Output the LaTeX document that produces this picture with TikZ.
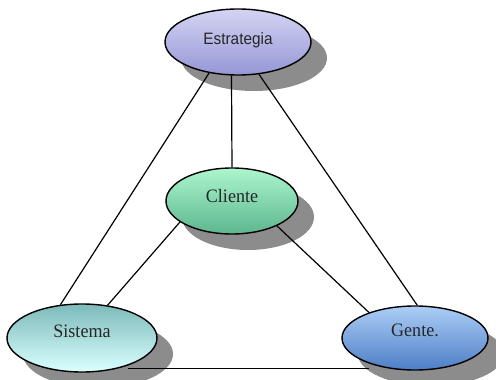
\documentclass[tikz,border=0pt]{standalone}
\usepackage{fontspec}
\setmainfont{Liberation Serif}
\newfontfamily\headfont{Liberation Sans}
\usetikzlibrary{shapes.geometric,shadows}

\definecolor{estTop}{RGB}{212,212,244}
\definecolor{estBot}{RGB}{150,150,214}
\definecolor{cliTop}{RGB}{172,246,206}
\definecolor{cliBot}{RGB}{92,182,142}
\definecolor{sisTop}{RGB}{125,186,186}
\definecolor{sisBot}{RGB}{218,255,255}
\definecolor{genTop}{RGB}{172,206,246}
\definecolor{genBot}{RGB}{78,126,198}
\definecolor{shadowgray}{RGB}{140,140,140}

\tikzset{
  bubble/.style={ellipse, draw=black, line width=1.4pt, inner sep=0pt,
    drop shadow={shadow xshift=16pt, shadow yshift=-16pt,
      fill=shadowgray, opacity=1, draw=none}},
  link/.style={draw=black, line width=1.2pt},
  tag/.style={font=\fontsize{19}{21}\selectfont, text=black!85}
}

\begin{document}
\begin{tikzpicture}[x=1pt, y=-1pt]
  \useasboundingbox[fill=white] (0,0) rectangle (496,380);

  % the four elements
  \node[bubble, minimum width=146pt, minimum height=66pt,
        top color=estTop, bottom color=estBot,
        label={[yshift=2pt, font=\headfont\fontsize{16.5}{18}\selectfont, text=black!85]center:\scalebox{0.93}[1]{Estrategia}}]
        (E) at (238,42) {};
  \node[bubble, minimum width=132pt, minimum height=66pt,
        top color=cliTop, bottom color=cliBot,
        label={[yshift=5pt, tag]center:\scalebox{0.95}[1]{Cliente}}]
        (C) at (232,201) {};
  \node[bubble, minimum width=150pt, minimum height=68pt,
        top color=sisTop, bottom color=sisBot,
        label={[yshift=7pt, tag]center:\scalebox{0.95}[1]{Sistema}}]
        (S) at (82,338) {};
  \node[bubble, minimum width=146pt, minimum height=64pt,
        top color=genTop, bottom color=genBot,
        label={[yshift=8pt, tag]center:\scalebox{0.95}[1]{Gente.}}]
        (G) at (415,338) {};

  % connections
  \draw[link] (E.259.7) -- (C.90);
  \draw[link] (E.227.7) -- (S.123.7);
  \draw[link] (E.303.7) -- (G.86.4);
  \draw[link] (C.202.9) -- (S.52.9);
  \draw[link] (C.331.6) -- (G.151.6);
  \draw[link] ([yshift=-3pt]S.329) -- ([yshift=-3pt]S.329 -| G.209);
\end{tikzpicture}
\end{document}
